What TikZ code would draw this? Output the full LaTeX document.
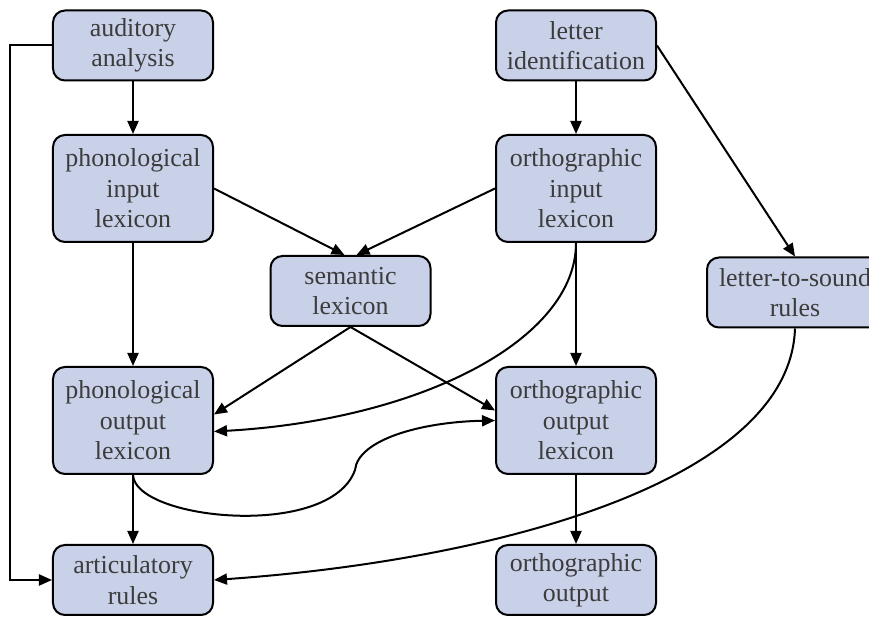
\documentclass[tikz,border=0pt]{standalone}
\usepackage{fontspec}
\setmainfont{Liberation Serif}
\newfontfamily\boxfont{Liberation Serif}
\usetikzlibrary{arrows.meta}
\definecolor{boxfill}{HTML}{C9D1E9}
\definecolor{boxtext}{HTML}{3C3C3C}

\begin{document}
\begin{tikzpicture}[x=1bp,y=1bp,
  box/.style={draw=black,fill=boxfill,text=boxtext,line width=2bp,rounded corners=12bp,
    align=center,minimum width=160bp,minimum height=70bp,inner sep=0pt,
    font=\boxfont\fontsize{26}{30.5}\selectfont},
  tall/.style={box,minimum height=107bp},
  arr/.style={line width=2bp,-{Triangle[length=13bp,width=11bp]}}]
\useasboundingbox (0,0) rectangle (869,617);

\node[box]  (aud)  at (133,571.5) {auditory\\analysis};
\node[box]  (let)  at (576,571.5) {letter\\identification};
\node[tall] (pin)  at (133,428.5) {phonological\\input\\lexicon};
\node[tall] (oin)  at (576,428.5) {orthographic\\input\\lexicon};
\node[box]  (sem)  at (350.5,326) {semantic\\lexicon};
\node[box,minimum width=176bp] (lts) at (795,324.5) {letter-to-sound\\rules};
\node[tall] (pout) at (133,196.5) {phonological\\output\\lexicon};
\node[tall] (oout) at (576,196.5) {orthographic\\output\\lexicon};
\node[box]  (art)  at (133,37)    {articulatory\\rules};
\node[box]  (oo)   at (576,37)    {orthographic\\output};

\draw[arr] (aud) -- (pin);
\draw[arr] (aud.west) -- ++(-42,0) |- (art.west);
\draw[arr] (let) -- (oin);
\draw[arr] (let.east) -- (lts.north);

\draw[arr] (pin.east) -- ([xshift=-6bp]sem.north);
\draw[arr] (oin.west) -- ([xshift=6bp]sem.north);
\draw[arr] (pin) -- (pout);
\draw[arr] (oin) -- (oout);

\draw[arr] (sem.south) -- ([yshift=6bp]pout.east);
\draw[arr] (sem.south) -- ([yshift=10bp]oout.west);
\draw[arr] (oin.south) .. controls (576,277) and (420,197) .. ([yshift=-11bp]pout.east);
\draw[arr] (pout.south) .. controls (135,97) and (330,77) .. (355,147)
  .. controls (358,177) and (420,195) .. (oout.west);

\draw[arr] (pout) -- (art);
\draw[arr] (oout) -- (oo);
\draw[arr] (lts.south) .. controls (790,137) and (500,57) .. (art.east);
\end{tikzpicture}
\end{document}
